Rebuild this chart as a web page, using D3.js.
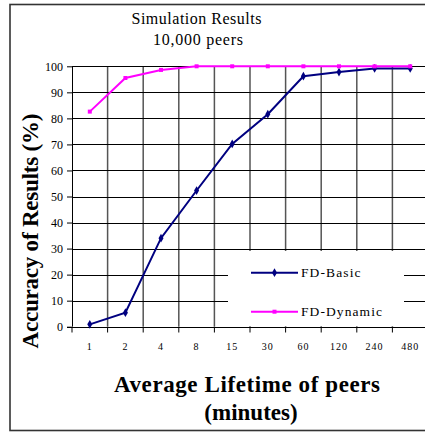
<!DOCTYPE html>
<html>
<head>
<meta charset="utf-8">
<script src="https://cdn.jsdelivr.net/npm/d3@7"></script>
<style>
  html, body { margin: 0; padding: 0; background: #fff; overflow: hidden; }
  svg { display: block; font-family: "Liberation Serif", "Times New Roman", serif; }
</style>
</head>
<body>
<div id="app"></div>
<script>
const WIDTH = 425;
const HEIGHT = 432;
const PLOT = { LEFT: 72, RIGHT: 428, TOP: 66.3, BOTTOM: 326.7 };

const lifetimes = ["1", "2", "4", "8", "15", "30", "60", "120", "240", "480"];
const fdBasic = [0.9, 5.4, 34, 52.3, 70.2, 81.6, 96.2, 97.8, 99.2, 99.2];
const fdDynamic = [82.6, 95.5, 98.6, 100, 100, 100, 100, 100, 100, 100];
const yTicks = [0, 10, 20, 30, 40, 50, 60, 70, 80, 90, 100];

const series = [
  { name: "FD-Basic", values: fdBasic, color: "#000080", symbol: d3.symbolDiamond, size: 22, len: 59.5 },
  { name: "FD-Dynamic", values: fdDynamic, color: "#ff00ff", symbol: d3.symbolSquare, size: 16, len: 81 },
];

const svg = d3
  .select("#app")
  .append("svg")
  .attr("width", WIDTH)
  .attr("height", HEIGHT);

// outer frame (right side runs off the picture)
svg
  .append("rect")
  .attr("x", 10)
  .attr("y", 4.5)
  .attr("width", 440)
  .attr("height", 426)
  .attr("fill", "none")
  .attr("stroke", "#333")
  .attr("stroke-width", 1.6);

const x = d3.scaleBand().domain(lifetimes).range([PLOT.LEFT, PLOT.RIGHT]).padding(0);
const y = d3.scaleLinear().domain([0, 100]).range([PLOT.BOTTOM, PLOT.TOP]);

// vertical grid at band edges
const edges = lifetimes.slice(1).map((d) => x(d));
svg
  .append("g")
  .selectAll("line")
  .data(edges)
  .join("line")
  .attr("x1", (d) => d)
  .attr("x2", (d) => d)
  .attr("y1", PLOT.TOP)
  .attr("y2", PLOT.BOTTOM)
  .attr("stroke", "#555")
  .attr("stroke-width", 1.5);

// horizontal grid
svg
  .append("g")
  .selectAll("line")
  .data(yTicks.filter((d) => d > 0))
  .join("line")
  .attr("x1", PLOT.LEFT)
  .attr("x2", WIDTH + 5)
  .attr("y1", (d) => Math.round(y(d)) + 0.5)
  .attr("y2", (d) => Math.round(y(d)) + 0.5)
  .attr("stroke", "#000")
  .attr("stroke-width", 1);

// legend box hides the grid behind it
const legendBox = { x: 228, y: 251, w: 176, h: 75 };
svg
  .append("rect")
  .attr("x", legendBox.x)
  .attr("y", legendBox.y)
  .attr("width", legendBox.w)
  .attr("height", legendBox.h)
  .attr("fill", "#fff");

// y axis
const yAxis = svg
  .append("g")
  .attr("transform", `translate(${PLOT.LEFT},0)`)
  .call(d3.axisLeft(y).tickValues(yTicks).tickSize(5).tickPadding(4));
yAxis.select(".domain").attr("stroke", "#000").attr("d", `M0.5,${PLOT.TOP}V${PLOT.BOTTOM}`);
yAxis.selectAll(".tick line").attr("stroke", "#000");
yAxis
  .selectAll(".tick text")
  .attr("font-family", "Liberation Serif")
  .attr("font-size", 12)
  .attr("fill", "#000");

// x axis: ticks at band edges, labels at centers
const xAxisG = svg.append("g").attr("transform", `translate(0,${Math.round(PLOT.BOTTOM) + 0.5})`);
xAxisG
  .append("line")
  .attr("x1", PLOT.LEFT - 5)
  .attr("x2", WIDTH + 5)
  .attr("stroke", "#000");
xAxisG
  .selectAll(".xtick")
  .data(edges.concat([PLOT.LEFT]))
  .join("line")
  .attr("class", "xtick")
  .attr("x1", (d) => d)
  .attr("x2", (d) => d)
  .attr("y1", 0)
  .attr("y2", 5)
  .attr("stroke", "#000");
xAxisG
  .selectAll("text")
  .data(lifetimes)
  .join("text")
  .attr("x", (d) => x(d) + x.bandwidth() / 2)
  .attr("y", 22)
  .attr("text-anchor", "middle")
  .attr("font-size", 10)
  .attr("letter-spacing", 1)
  .text((d) => d);

// lines and markers
const line = d3
  .line()
  .x((d, i) => x(lifetimes[i]) + x.bandwidth() / 2)
  .y((d) => y(d));

series.forEach((s) => {
  svg
    .append("path")
    .datum(s.values)
    .attr("d", line)
    .attr("fill", "none")
    .attr("stroke", s.color)
    .attr("stroke-width", 2);
  svg
    .append("g")
    .selectAll("path")
    .data(s.values)
    .join("path")
    .attr("transform", (d, i) => `translate(${x(lifetimes[i]) + x.bandwidth() / 2},${y(d)})`)
    .attr("d", d3.symbol(s.symbol, s.size))
    .attr("fill", s.color);
});

// legend
const legend = svg
  .append("g")
  .selectAll("g")
  .data(series)
  .join("g")
  .attr("transform", (d, i) => `translate(251,${272.7 + i * 39})`);
legend
  .append("line")
  .attr("x1", 0)
  .attr("x2", 47)
  .attr("stroke", (d) => d.color)
  .attr("stroke-width", 2);
legend
  .append("path")
  .attr("transform", "translate(23.5,0)")
  .attr("d", (d) => d3.symbol(d.symbol, d.size)())
  .attr("fill", (d) => d.color);
legend
  .append("text")
  .attr("x", 50)
  .attr("y", 4.5)
  .attr("font-size", 13.5)
  .attr("textLength", (d) => d.len)
  .attr("lengthAdjust", "spacing")
  .text((d) => d.name);

// title
svg
  .append("text")
  .attr("x", 131.5)
  .attr("y", 23.5)
  .attr("font-size", 16)
  .attr("textLength", 130)
  .attr("lengthAdjust", "spacing")
  .text("Simulation Results");
svg
  .append("text")
  .attr("x", 153)
  .attr("y", 45)
  .attr("font-size", 16)
  .attr("textLength", 90)
  .attr("lengthAdjust", "spacing")
  .text("10,000 peers");

// axis titles
svg
  .append("text")
  .attr("transform", "translate(37.5,348.5) rotate(-90)")
  .attr("font-size", 23)
  .attr("font-weight", "bold")
  .attr("textLength", 235)
  .attr("lengthAdjust", "spacing")
  .text("Accuracy of Results (%)");
svg
  .append("text")
  .attr("x", 114)
  .attr("y", 391.7)
  .attr("font-size", 23)
  .attr("font-weight", "bold")
  .attr("textLength", 266)
  .attr("lengthAdjust", "spacing")
  .text("Average Lifetime of peers");
svg
  .append("text")
  .attr("x", 251)
  .attr("y", 419.5)
  .attr("text-anchor", "middle")
  .attr("font-size", 23)
  .attr("font-weight", "bold")
  .text("(minutes)");
</script>
</body>
</html>
